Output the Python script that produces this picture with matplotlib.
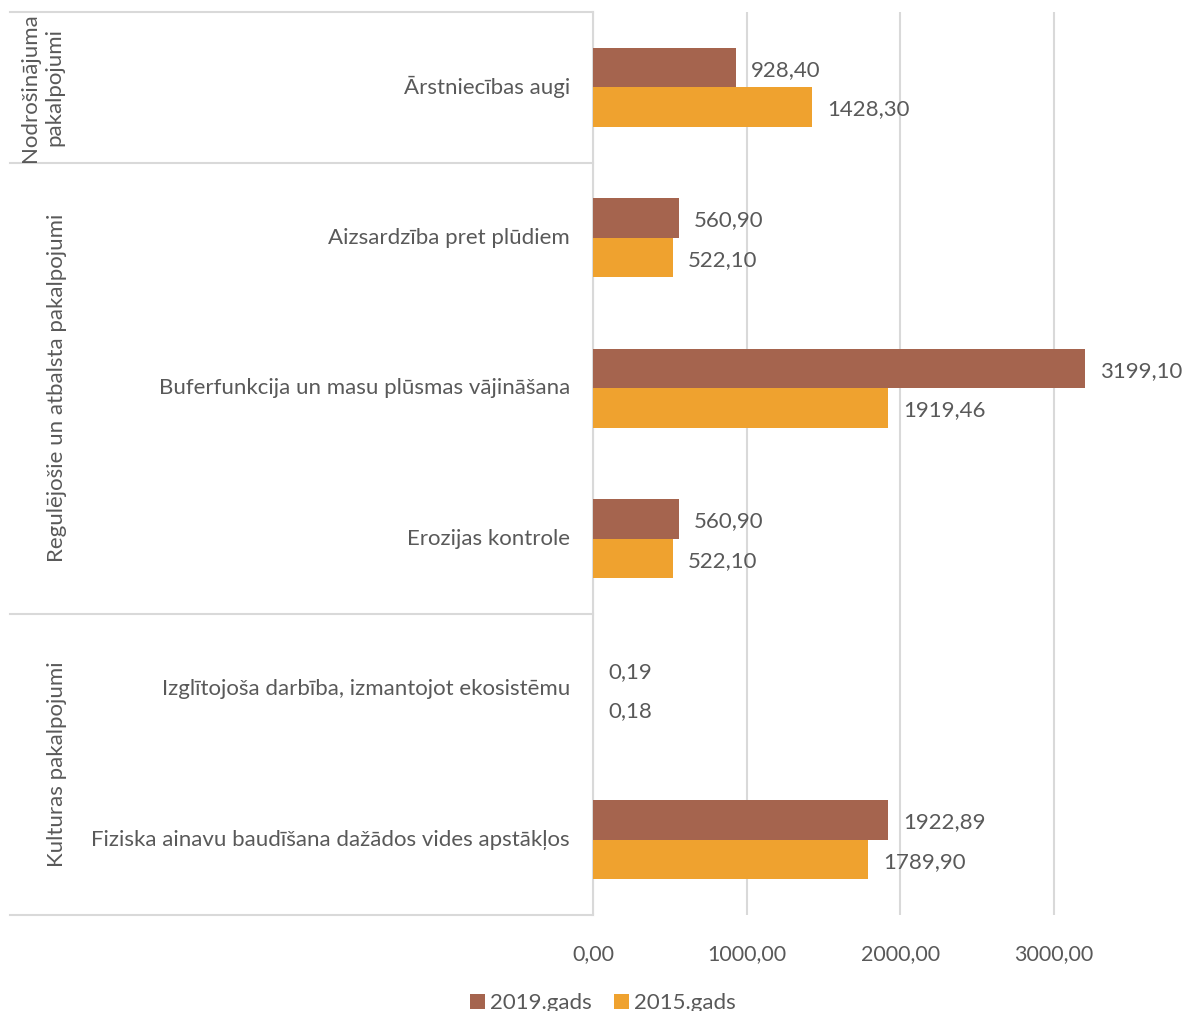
import matplotlib
matplotlib.use("Agg")
import matplotlib.pyplot as plt
from matplotlib.patches import Patch
from matplotlib.transforms import blended_transform_factory
import numpy as np

plt.rcParams['font.family'] = ['Lato', 'DejaVu Sans']

categories = [
    "Ārstniecības augi",
    "Aizsardzība pret plūdiem",
    "Buferfunkcija un masu plūsmas vājināšana",
    "Erozijas kontrole",
    "Izglītojoša darbība, izmantojot ekosistēmu",
    "Fiziska ainavu baudīšana dažādos vides apstākļos",
]
values_2019 = [928.40, 560.90, 3199.10, 560.90, 0.19, 1922.89]
values_2015 = [1428.30, 522.10, 1919.46, 522.10, 0.18, 1789.90]
series_names = ["2019.gads", "2015.gads"]
groups = ["Nodrošinājuma\npakalpojumi", "Regulējošie un atbalsta pakalpojumi", "Kulturas pakalpojumi"]
group_spans = [(0, 0), (1, 3), (4, 5)]
xticks = [0, 1000, 2000, 3000]

W, H = 1183, 1011
fig = plt.figure(figsize=(W / 100, H / 100), dpi=100)
ax_left, ax_right, ax_top, ax_bottom = 593, 1183, 12, 915
ax = fig.add_axes([ax_left / W, 1 - ax_bottom / H, (ax_right - ax_left) / W, (ax_bottom - ax_top) / H])

c2019 = "#A5644E"
c2015 = "#EFA22F"
txt = "#595959"
grid = "#D9D9D9"
fs = 16

y = np.arange(len(categories))
bh = 0.262
ax.barh(y - bh / 2, values_2019, height=bh, color=c2019, zorder=3)
ax.barh(y + bh / 2, values_2015, height=bh, color=c2015, zorder=3)

px_per_unit = 153.67 / 1000
xmax = (ax_right - ax_left) / px_per_unit
ax.set_xlim(0, xmax)
ax.set_ylim(len(categories) - 0.5, -0.5)

def fmt(v):
    return f"{v:.2f}".replace(".", ",")

off = 15 / px_per_unit
for i in range(len(categories)):
    ax.text(values_2019[i] + off, y[i] - bh / 2 + 0.015, fmt(values_2019[i]), va="center", ha="left",
            fontsize=fs, color=txt)
    ax.text(values_2015[i] + off, y[i] + bh / 2 + 0.015, fmt(values_2015[i]), va="center", ha="left",
            fontsize=fs, color=txt)

ax.set_xticks(xticks)
ax.set_xticklabels([fmt(v) for v in xticks], fontsize=15.5, color=txt)
ax.tick_params(axis="x", length=0, pad=21)
ax.set_yticks([])
ax.grid(axis="x", color=grid, linewidth=1.5, zorder=0)
for s in ["top", "right", "bottom"]:
    ax.spines[s].set_visible(False)
ax.spines["left"].set_color(grid)
ax.spines["left"].set_linewidth(1.5)

tr = blended_transform_factory(fig.transFigure, ax.transData)
for i, c in enumerate(categories):
    ax.text(570 / W, y[i], c, transform=tr, ha="right", va="center", fontsize=fs, color=txt)

bounds = [-0.5, 0.5, 3.5, 5.5]
for b in bounds:
    ax.plot([10 / W, ax_left / W], [b, b], transform=tr, color=grid, linewidth=1.5, clip_on=False)

group_x = [42, 57, 57]
for (a, b), g, gx in zip(group_spans, groups, group_x):
    ax.text(gx / W, (a + b) / 2, g, transform=tr, rotation=90, ha="center", va="center",
            fontsize=fs, color=txt, multialignment="center", linespacing=1.3)

handles = [Patch(facecolor=c2019), Patch(facecolor=c2015)]
fig.legend(handles, series_names, loc="center", bbox_to_anchor=(603 / W, 1 - 1003 / H),
           ncol=2, frameon=False, fontsize=fs, labelcolor=txt, handlelength=0.65,
           handleheight=0.65, handletextpad=0.25, columnspacing=1.0)

fig.savefig("out.png", dpi=100)
